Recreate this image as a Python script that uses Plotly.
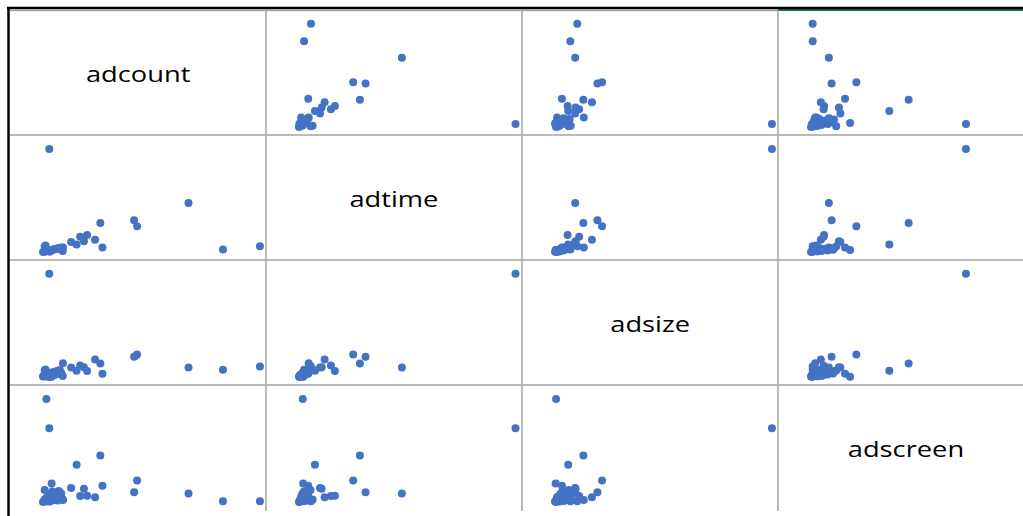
import plotly.graph_objects as go

# Four advertising measures, one value per observation (same order in every list)
adcount = [103.3, 85.7, 69.3, 44.8, 43.4, 28.3, 27.3, 24.8, 19.5, 21.0, 17.7, 16.0, 13.4,
           3.0, 1.6, 9.5, 4.1,
           0.0, 0.5, 1.0, 1.5, 2.0, 2.5, 3.0, 3.5, 4.0, 4.5, 5.0, 5.5, 6.0, 6.5, 7.0,
           7.5, 8.0, 8.7, 9.4, 0.8, 1.2, 3.2]
adtime = [5.7, 2.4, 49.0, 25.8, 31.7, 4.4, 29.0, 12.2, 10.8, 17.1, 15.2, 7.6, 10.0,
          103.1, 1.8, 4.6, 2.0,
          0.0, 0.3, 0.6, 0.8, 1.0, 1.3, 1.5, 1.7, 2.0, 2.3, 2.5, 2.8, 3.0, 3.3, 3.5,
          3.8, 4.0, 4.4, 1.0, 5.5, 6.5, 0.2]
adsize = [10.6, 7.3, 9.6, 22.4, 20.2, 3.3, 13.5, 17.6, 9.8, 6.0, 11.5, 6.3, 9.6,
          103.3, 0.5, 13.7, 0.3,
          0.5, 1.5, 0.8, 2.2, 1.0, 3.0, 2.5, 4.2, 1.5, 3.5, 5.0, 2.0, 4.5, 6.0, 3.0,
          5.5, 7.0, 4.0, 1.0, 6.5, 7.5, 0.0]
adscreen = [0.8, 0.8, 8.5, 21.6, 9.8, 16.2, 46.5, 4.7, 13.3, 6.2, 6.0, 37.3, 14.0,
            73.8, 103.0, 2.0, 18.6,
            0.0, 1.0, 3.0, 0.5, 5.0, 2.0, 8.0, 1.0, 4.0, 10.5, 2.0, 6.0, 3.0, 7.0, 1.5,
            11.0, 4.0, 8.5, 2.5, 12.0, 2.5, 0.5]

names = ["adcount", "adtime", "adsize", "adscreen"]
series = [adcount, adtime, adsize, adscreen]

W, H = 1023, 516
col_px = [(10, 266), (266, 522), (522, 778), (778, 1023)]
row_px = [(10, 135), (135, 260), (260, 385), (385, 510)]
cell_w = 256          # full cell width; the last column is cut by the page edge
x_pad, x_scale = 33, 2.1
y_top, y_bot = 117, -8

def px(x):
    return x / W

def py(y):
    return 1 - y / H

fig = go.Figure()
layout = {}
for r in range(4):
    for c in range(4):
        k = r * 4 + c + 1
        sfx = "" if k == 1 else str(k)
        x0, x1 = col_px[c]
        y0, y1 = row_px[r]
        lo = -x_pad / x_scale
        hi = lo + (x1 - x0) / x_scale
        layout["xaxis" + sfx] = dict(domain=[px(x0), px(x1)], range=[lo, hi],
                                     anchor="y" + sfx, visible=False, fixedrange=True)
        layout["yaxis" + sfx] = dict(domain=[py(y1), py(y0)], range=[y_bot, y_top],
                                     anchor="x" + sfx, visible=False, fixedrange=True)
        if r != c:
            fig.add_trace(go.Scatter(
                x=series[c], y=series[r], mode="markers",
                marker=dict(color="#4472C4", size=8, line=dict(width=0)),
                xaxis="x" + sfx, yaxis="y" + sfx, showlegend=False, hoverinfo="skip"))

# variable names on the diagonal
annotations = []
for i, name in enumerate(names):
    x0 = col_px[i][0]
    cx = x0 + cell_w / 2
    cy = (row_px[i][0] + row_px[i][1]) / 2
    annotations.append(dict(text=name, x=px(cx), y=py(cy), xref="paper", yref="paper",
                            xanchor="center", yanchor="middle", showarrow=False,
                            font=dict(family="Open Sans", size=22, color="#000000")))

# cell grid and sheet border
grid = "#a3a3a3"
shapes = []
for _, yb in row_px[:-1]:
    shapes.append(dict(type="line", xref="paper", yref="paper", x0=px(10), x1=1,
                       y0=py(yb), y1=py(yb), line=dict(color=grid, width=1.5)))
shapes.append(dict(type="line", xref="paper", yref="paper", x0=px(10), x1=px(778),
                   y0=py(10.5), y1=py(10.5), line=dict(color=grid, width=1.5)))
shapes.append(dict(type="line", xref="paper", yref="paper", x0=px(778), x1=1,
                   y0=py(10), y1=py(10), line=dict(color="#217346", width=2)))
for xb in (266, 522, 778):
    shapes.append(dict(type="line", xref="paper", yref="paper", x0=px(xb), x1=px(xb),
                       y0=py(10), y1=py(511), line=dict(color=grid, width=1.5)))
shapes.append(dict(type="line", xref="paper", yref="paper", x0=px(7), x1=1,
                   y0=py(8), y1=py(8), line=dict(color="#000000", width=2.5)))
shapes.append(dict(type="line", xref="paper", yref="paper", x0=px(8.5), x1=px(8.5),
                   y0=py(7), y1=0, line=dict(color="#000000", width=2.5)))

fig.update_layout(**layout)
fig.update_layout(width=W, height=H, margin=dict(l=0, r=0, t=0, b=0),
                  paper_bgcolor="white", plot_bgcolor="rgba(0,0,0,0)",
                  annotations=annotations, shapes=shapes)

# widen the diagonal captions a little around their own centre
widen = """
document.querySelectorAll('.annotation-text').forEach(function (t) {
  t.style.transformBox = 'fill-box';
  t.style.transformOrigin = 'center';
  t.style.transform = 'scaleX(1.24)';
});
"""
fig.write_html("out.html", config={"displayModeBar": False}, post_script=widen)
